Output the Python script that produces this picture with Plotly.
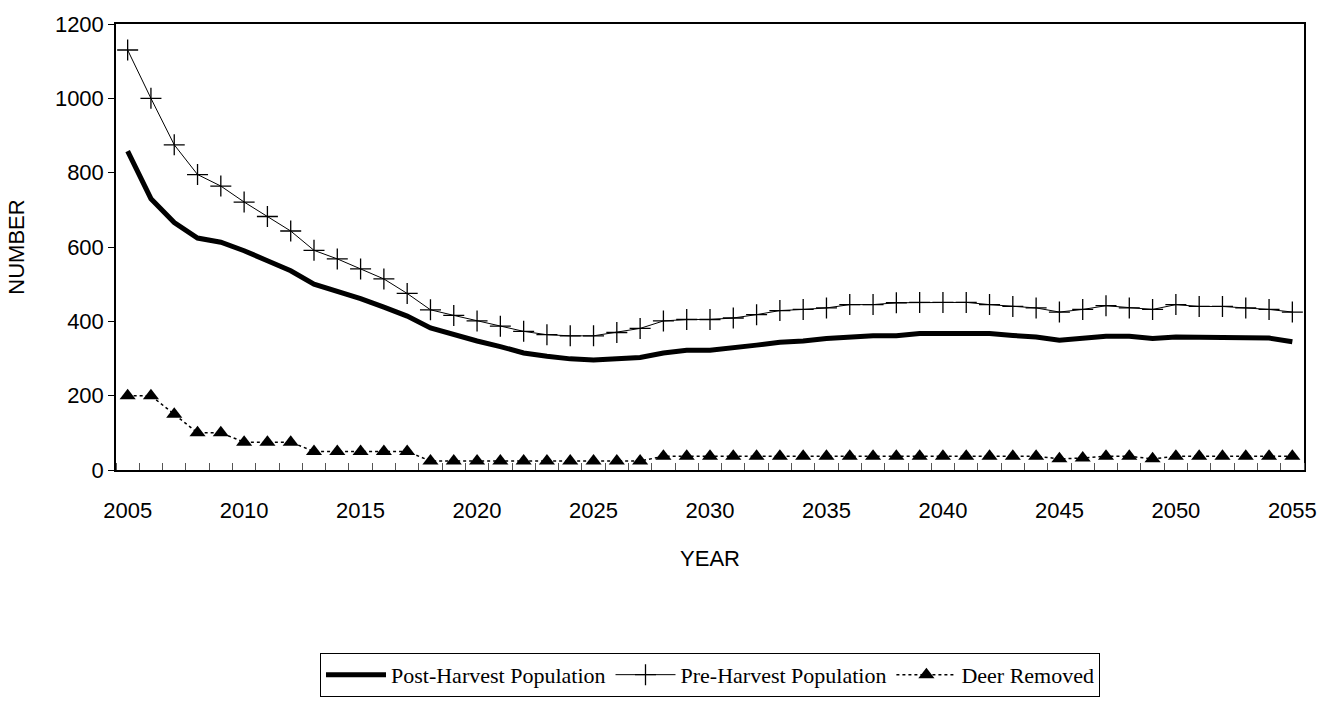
import plotly.graph_objects as go

years = list(range(2005, 2056))

post_harvest = [858, 730, 666, 624, 613, 590, 563, 536, 500, 481,
                461, 438, 414, 382, 364, 347, 332, 315, 306, 299,
                296, 299, 303, 315, 322, 322, 328, 336, 344, 347,
                354, 358, 361, 361, 367, 367, 367, 367, 362, 358,
                349, 355, 360, 360, 354, 358, 358, 358, 355, 355, 345]

pre_harvest = [1130, 1000, 875, 795, 764, 721, 682, 643, 591, 568,
               541, 514, 475, 431, 416, 401, 387, 373, 364, 361,
               361, 370, 381, 401, 405, 405, 409, 418, 429, 432,
               436, 445, 445, 450, 451, 451, 451, 445, 440, 436,
               425, 432, 442, 436, 432, 445, 440, 440, 436, 432, 425]

deer_removed = [200, 200, 150, 100, 100, 75, 75, 75, 50, 50,
                50, 50, 50, 24, 24, 24, 24, 24, 24, 24,
                24, 24, 24, 37, 37, 37, 37, 37, 37, 37,
                37, 37, 37, 37, 37, 37, 37, 37, 37, 37,
                30, 32, 37, 37, 30, 37, 37, 37, 37, 37, 37]

x_labels = list(range(2005, 2056, 5))

fig = go.Figure()
fig.add_trace(go.Scatter(
    x=years, y=post_harvest, name="Post-Harvest Population",
    mode="lines", line=dict(color="black", width=5)))
fig.add_trace(go.Scatter(
    x=years, y=pre_harvest, name="Pre-Harvest Population",
    mode="lines+markers", line=dict(color="black", width=1),
    marker=dict(symbol="cross-thin", size=15, line=dict(color="black", width=1.3))))
fig.add_trace(go.Scatter(
    x=years, y=deer_removed, name="Deer Removed",
    mode="lines+markers", line=dict(color="black", width=1.5, dash="dot"),
    marker=dict(symbol="triangle-up", size=14, color="black")))

axis_font = dict(family="Liberation Sans, Arial, sans-serif", size=22, color="black")

fig.update_layout(
    width=1329, height=709,
    margin=dict(l=116, r=22, t=14, b=234),
    paper_bgcolor="white", plot_bgcolor="white",
    showlegend=True,
    legend=dict(
        orientation="h", x=0.5, xanchor="center", y=-0.41, yanchor="top",
        bordercolor="black", borderwidth=1,
        font=dict(family="Liberation Serif, Times New Roman, serif", size=22, color="black"),
        itemwidth=60, tracegroupgap=0),
    xaxis=dict(
        range=[2004.5, 2055.5], tickmode="array", tickvals=x_labels,
        ticktext=[str(v) for v in x_labels], ticks="", showgrid=False,
        showline=True, linecolor="black", linewidth=1.5, mirror=True,
        tickfont=axis_font, zeroline=False, ticklabelstandoff=20,
        minor=dict(ticks="inside", tick0=2004.5, dtick=1, ticklen=7,
                   tickcolor="#555555", tickwidth=1, showgrid=False),
        title=dict(text="YEAR", font=axis_font, standoff=28)),
    yaxis=dict(
        range=[0, 1200], dtick=200, ticks="outside", ticklen=6,
        tickcolor="black", showgrid=False, zeroline=False,
        showline=True, linecolor="black", linewidth=1.5, mirror=True,
        tickfont=axis_font,
        title=dict(text="NUMBER", font=axis_font, standoff=24)),
)

fig.write_html("out.html")
